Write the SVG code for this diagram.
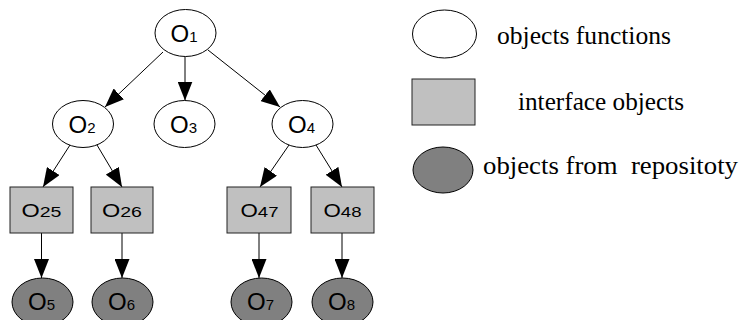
<svg xmlns="http://www.w3.org/2000/svg" width="741" height="320" viewBox="0 0 741 320">
<style>
.fn{fill:#fff;stroke:#000;stroke-width:1}
.if{fill:#c0c0c0;stroke:#222;stroke-width:1}
.rp{fill:#808080;stroke:#000;stroke-width:1}
.lbl{font-family:"Liberation Sans",Arial,sans-serif;fill:#000;text-anchor:middle}
.big{font-size:24px}
.sm{font-size:15px}
.bbig{font-size:18px}
.bsm{font-size:15px}
.leg{font-family:"Liberation Serif","Times New Roman",serif;font-size:25px;fill:#000;white-space:pre}
.edge{stroke:#000;stroke-width:1;fill:none;marker-end:url(#ah)}
</style>
<defs>
<marker id="ah" markerUnits="userSpaceOnUse" markerWidth="19" markerHeight="15" refX="19" refY="7.5" orient="auto" viewBox="0 0 19 15">
<path d="M0,0 L19,7.5 L0,15 z" fill="#000"/>
</marker>
</defs>
<rect width="741" height="320" fill="#fff"/>
<g id="connectors">
<line class="edge" x1="163" y1="52" x2="105" y2="107"/>
<line class="edge" x1="185" y1="56.5" x2="185" y2="100.5"/>
<line class="edge" x1="208" y1="50" x2="280" y2="107"/>
<line class="edge" x1="70" y1="145" x2="43" y2="187"/>
<line class="edge" x1="97" y1="145" x2="122" y2="187"/>
<line class="edge" x1="289" y1="145" x2="260" y2="187"/>
<line class="edge" x1="316" y1="145" x2="342" y2="187"/>
<line class="edge" x1="41.5" y1="233" x2="41.5" y2="278"/>
<line class="edge" x1="122" y1="233" x2="122" y2="278"/>
<line class="edge" x1="259" y1="233" x2="259" y2="278"/>
<line class="edge" x1="342" y1="233" x2="342" y2="278"/>
</g>
<g id="O1"><ellipse class="fn" cx="185.5" cy="33" rx="30.5" ry="23.5"/><text class="lbl" x="184" y="42"><tspan class="big">O</tspan><tspan class="sm">1</tspan></text></g>
<g id="O2"><ellipse class="fn" cx="83" cy="124" rx="30.5" ry="23.5"/><text class="lbl" x="82" y="133"><tspan class="big">O</tspan><tspan class="sm">2</tspan></text></g>
<g id="O3"><ellipse class="fn" cx="184.5" cy="124" rx="30.5" ry="23.5"/><text class="lbl" x="183.5" y="133"><tspan class="big">O</tspan><tspan class="sm">3</tspan></text></g>
<g id="O4"><ellipse class="fn" cx="302.5" cy="124" rx="30.5" ry="23.5"/><text class="lbl" x="301.5" y="133"><tspan class="big">O</tspan><tspan class="sm">4</tspan></text></g>
<g id="O25"><rect class="if" x="10" y="187" width="63" height="46"/><text class="lbl" x="41.5" y="217" textLength="40" lengthAdjust="spacingAndGlyphs"><tspan class="bbig">O</tspan><tspan class="bsm">25</tspan></text></g>
<g id="O26"><rect class="if" x="91" y="187" width="62" height="46"/><text class="lbl" x="122" y="217" textLength="40" lengthAdjust="spacingAndGlyphs"><tspan class="bbig">O</tspan><tspan class="bsm">26</tspan></text></g>
<g id="O47"><rect class="if" x="227" y="187" width="64" height="46"/><text class="lbl" x="259.5" y="217" textLength="38" lengthAdjust="spacingAndGlyphs"><tspan class="bbig">O</tspan><tspan class="bsm">47</tspan></text></g>
<g id="O48"><rect class="if" x="311" y="187" width="63" height="46"/><text class="lbl" x="342.5" y="217" textLength="38" lengthAdjust="spacingAndGlyphs"><tspan class="bbig">O</tspan><tspan class="bsm">48</tspan></text></g>
<g id="O5"><ellipse class="rp" cx="42.5" cy="302" rx="30.5" ry="24"/><text class="lbl" x="41.5" y="310"><tspan class="big">O</tspan><tspan class="sm">5</tspan></text></g>
<g id="O6"><ellipse class="rp" cx="122.5" cy="302" rx="30.5" ry="24"/><text class="lbl" x="121.5" y="310"><tspan class="big">O</tspan><tspan class="sm">6</tspan></text></g>
<g id="O7"><ellipse class="rp" cx="261.5" cy="302" rx="30.5" ry="24"/><text class="lbl" x="260.5" y="310"><tspan class="big">O</tspan><tspan class="sm">7</tspan></text></g>
<g id="O8"><ellipse class="rp" cx="342.5" cy="302" rx="30.5" ry="24"/><text class="lbl" x="341.5" y="310"><tspan class="big">O</tspan><tspan class="sm">8</tspan></text></g>
<g id="legend">
<ellipse class="fn" cx="444.5" cy="34" rx="32" ry="24"/>
<text class="leg" x="497" y="44" textLength="174" lengthAdjust="spacingAndGlyphs">objects functions</text>
<rect class="if" x="412" y="79" width="63" height="46"/>
<text class="leg" x="518" y="110" textLength="166" lengthAdjust="spacingAndGlyphs">interface objects</text>
<ellipse class="rp" cx="443" cy="170" rx="30" ry="23"/>
<text class="leg" x="483" y="174" textLength="255" lengthAdjust="spacingAndGlyphs" xml:space="preserve">objects from  repositoty</text>
</g>
</svg>
